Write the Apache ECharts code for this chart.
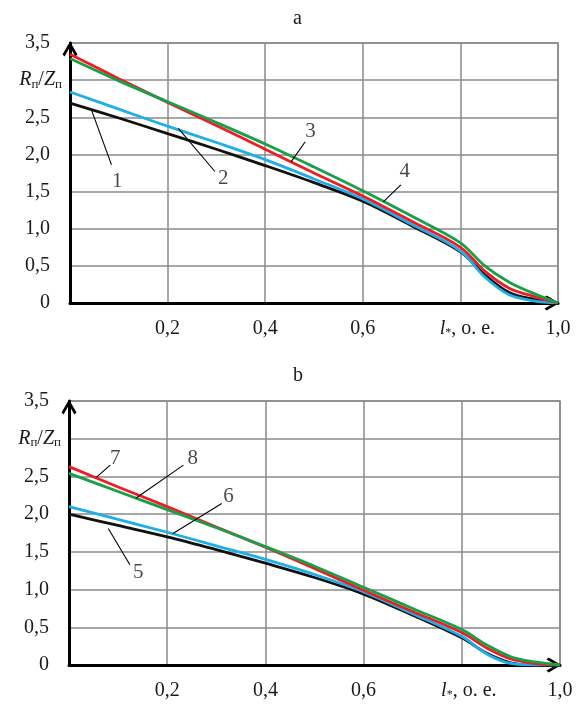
<!DOCTYPE html>
<html>
<head>
<meta charset="utf-8">
<script src="https://cdn.jsdelivr.net/npm/echarts@6/dist/echarts.min.js"></script>
<style>
html,body{margin:0;padding:0;background:#fff;}
#chart{width:576px;height:704px;}
</style>
</head>
<body>
<div id="chart"></div>
<script>
// ---- data ----
const xValues = [0, 0.1, 0.2, 0.3, 0.4, 0.5, 0.6, 0.7, 0.8, 0.85, 0.9, 0.95, 1.0];

// chart a
const aCurve1 = [2.69, 2.49, 2.28, 2.07, 1.85, 1.62, 1.37, 1.04, 0.69, 0.38, 0.14, 0.05, 0];
const aCurve2 = [2.84, 2.61, 2.38, 2.16, 1.93, 1.67, 1.40, 1.06, 0.70, 0.35, 0.11, 0.03, 0];
const aCurve3 = [3.35, 3.02, 2.70, 2.39, 2.07, 1.75, 1.44, 1.10, 0.75, 0.43, 0.20, 0.09, 0];
const aCurve4 = [3.29, 2.99, 2.71, 2.43, 2.14, 1.83, 1.51, 1.17, 0.81, 0.50, 0.28, 0.13, 0];

// chart b
const bCurve5 = [2.00, 1.85, 1.70, 1.53, 1.35, 1.16, 0.94, 0.66, 0.36, 0.16, 0.03, 0, 0];
const bCurve6 = [2.10, 1.93, 1.76, 1.58, 1.40, 1.20, 0.97, 0.68, 0.38, 0.15, 0.02, 0, 0];
const bCurve7 = [2.63, 2.36, 2.10, 1.83, 1.56, 1.28, 0.99, 0.71, 0.43, 0.23, 0.08, 0.02, 0];
const bCurve8 = [2.54, 2.30, 2.06, 1.82, 1.57, 1.31, 1.03, 0.75, 0.47, 0.27, 0.11, 0.04, 0];

const xTickLabels = ['', '0,2', '0,4', '0,6', 'l*, o. e.', '1,0'];
const yTickLabels = ['0', '0,5', '1,0', '1,5', '2,0', '2,5', 'R/Z', '3,5'];
const panelTitles = ['a', 'b'];

// curve labels: [name, lineStart, lineEnd, labelPoint] in data coordinates
const aLabels = [
  ['1', [0.044, 2.60], [0.085, 1.86], [0.097, 1.64]],
  ['2', [0.222, 2.35], [0.297, 1.77], [0.314, 1.68]],
  ['3', [0.453, 1.90], [0.482, 2.17], [0.493, 2.31]],
  ['4', [0.642, 1.36], [0.678, 1.59], [0.686, 1.77]]
];
const bLabels = [
  ['7', [0.056, 2.49], [0.084, 2.65], [0.094, 2.74]],
  ['8', [0.136, 2.21], [0.233, 2.65], [0.252, 2.74]],
  ['6', [0.211, 1.74], [0.311, 2.14], [0.325, 2.24]],
  ['5', [0.080, 1.81], [0.124, 1.33], [0.141, 1.22]]
];

// ---- styling ----
const FONT = '"Liberation Serif","Times New Roman",serif';
const TXT = '#1a1a1a';
const GRIDC = '#8a8a8a';
const FS = 20;
const colors = {black: '#111111', blue: '#1eaee8', red: '#ee1c24', green: '#1a9e48'};
const chevron = 'path://M5,0 L10,8.6 L8.6,10 L5,3.6 L1.4,10 L0,8.6 Z';

function pts(arr) { return xValues.map((x, i) => [x, arr[i]]); }

function makeX(gi) {
  return {
    type: 'value', gridIndex: gi, min: 0, max: 1, interval: 0.2,
    axisLine: {show: true, onZero: false, lineStyle: {color: '#000', width: 3},
      symbol: ['none', chevron], symbolSize: [16, 15], symbolOffset: [0, -6]},
    axisTick: {show: false},
    splitLine: {show: true, lineStyle: {color: GRIDC, width: 1.5}},
    axisLabel: {
      margin: 16, showMinLabel: true, showMaxLabel: true,
      formatter: function (v) {
        const t = xTickLabels[Math.round(v / 0.2)];
        if (t === 'l*, o. e.') return '{li|l}{ls|*}{n|, o. e.}';
        return '{n|' + t + '}';
      },
      rich: {
        n: {fontFamily: FONT, fontSize: FS, color: TXT},
        li: {fontFamily: FONT, fontSize: FS, fontStyle: 'italic', color: TXT, padding: [0, 0, 0, 14]},
        ls: {fontFamily: FONT, fontSize: 12, color: TXT, verticalAlign: 'bottom', padding: [6, 0, 0, 0]}
      }
    }
  };
}

function makeY(gi) {
  return {
    type: 'value', gridIndex: gi, min: 0, max: 3.5, interval: 0.5,
    axisLine: {show: true, onZero: false, lineStyle: {color: '#000', width: 3},
      symbol: ['none', chevron], symbolSize: [18, 15], symbolOffset: [0, -6]},
    axisTick: {show: false},
    splitLine: {show: true, lineStyle: {color: GRIDC, width: 1.5}},
    axisLabel: {
      margin: 8, showMinLabel: true, showMaxLabel: true,
      formatter: function (v) {
        const t = yTickLabels[Math.round(v / 0.5)];
        if (t === 'R/Z') return '{i|R}{s|п}{p|/}{i|Z}{s|п}';
        return '{n|' + t + '}';
      },
      rich: {
        n: {fontFamily: FONT, fontSize: FS, color: TXT, padding: [0, 12, 0, 0]},
        i: {fontFamily: FONT, fontSize: FS, fontStyle: 'italic', color: TXT},
        p: {fontFamily: FONT, fontSize: FS, color: TXT},
        s: {fontFamily: FONT, fontSize: 13, color: TXT, verticalAlign: 'bottom', padding: [8, 0, 0, 0]}
      }
    }
  };
}

function curve(gi, name, arr, color) {
  return {
    type: 'line', name: name, xAxisIndex: gi, yAxisIndex: gi, data: pts(arr),
    smooth: 0.35, showSymbol: false, symbol: 'none', z: 5,
    lineStyle: {color: color, width: 2.8}
  };
}

function labelSeries(gi, labels) {
  const out = [];
  labels.forEach(function (l) {
    out.push({
      type: 'line', xAxisIndex: gi, yAxisIndex: gi, data: [l[1], l[2]],
      showSymbol: false, symbol: 'none', z: 6, silent: true,
      lineStyle: {color: '#000', width: 1.1}
    });
  });
  out.push({
    type: 'scatter', xAxisIndex: gi, yAxisIndex: gi, symbolSize: 0, z: 7, silent: true,
    data: labels.map(function (l) { return {name: l[0], value: l[3]}; }),
    label: {show: true, position: 'inside', formatter: '{b}',
      fontFamily: FONT, fontSize: 21, color: TXT}
  });
  return out;
}

const series = [
  curve(0, '1', aCurve1, colors.black),
  curve(0, '2', aCurve2, colors.blue),
  curve(0, '3', aCurve3, colors.red),
  curve(0, '4', aCurve4, colors.green),
  curve(1, '5', bCurve5, colors.black),
  curve(1, '6', bCurve6, colors.blue),
  curve(1, '7', bCurve7, colors.red),
  curve(1, '8', bCurve8, colors.green)
].concat(labelSeries(0, aLabels), labelSeries(1, bLabels));

const option = {
  backgroundColor: '#fff',
  animation: false,
  title: [
    {text: panelTitles[0], left: 288, top: 4,
      textStyle: {fontFamily: FONT, fontSize: FS, fontWeight: 'normal', color: TXT}},
    {text: panelTitles[1], left: 288, top: 361,
      textStyle: {fontFamily: FONT, fontSize: FS, fontWeight: 'normal', color: TXT}}
  ],
  grid: [
    {left: 70, top: 43, right: 18, bottom: 401, show: true, borderColor: GRIDC, borderWidth: 1.5, backgroundColor: 'transparent'},
    {left: 69, top: 401, right: 16, bottom: 39, show: true, borderColor: GRIDC, borderWidth: 1.5, backgroundColor: 'transparent'}
  ],
  xAxis: [makeX(0), makeX(1)],
  yAxis: [makeY(0), makeY(1)],
  series: series
};

const chart = echarts.init(document.getElementById('chart'), null, {renderer: 'canvas'});
chart.setOption(option);
</script>
</body>
</html>
